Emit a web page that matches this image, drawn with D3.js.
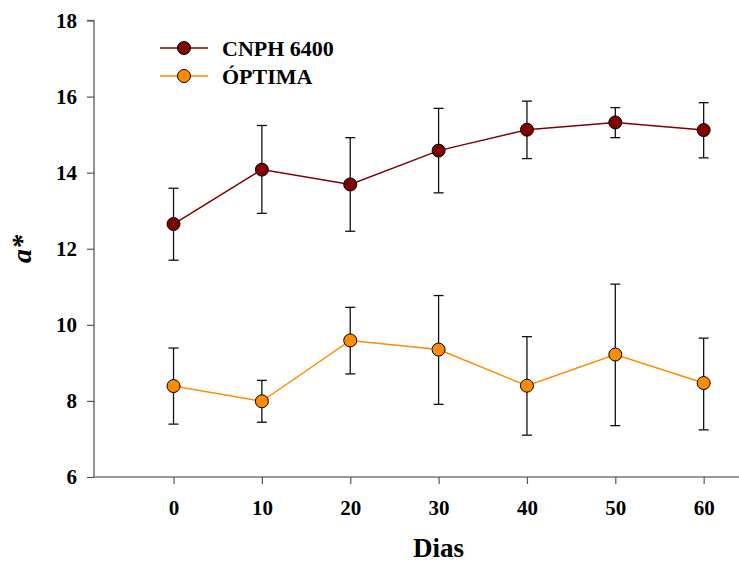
<!DOCTYPE html>
<html>
<head>
<meta charset="utf-8">
<script src="https://cdn.jsdelivr.net/npm/d3@7"></script>
<style>
  body { margin: 0; background: #fff; }
  svg text { font-family: "Liberation Serif", "Times New Roman", Times, "DejaVu Serif", serif !important; }
</style>
</head>
<body>
<svg id="chart" width="739" height="563"></svg>
<script>
// ---------------- DATA ----------------
const dias = [0, 10, 20, 30, 40, 50, 60];

const cnphMean  = [12.65, 14.08, 13.69, 14.58, 15.13, 15.32, 15.12];
const cnphLow   = [11.70, 12.93, 12.46, 13.47, 14.37, 14.92, 14.39];
const cnphHigh  = [13.59, 15.24, 14.92, 15.69, 15.88, 15.71, 15.84];

const optimaMean = [8.39, 7.99, 9.59, 9.35, 8.40, 9.22, 8.47];
const optimaLow  = [7.39, 7.44, 8.71, 7.91, 7.10, 7.35, 7.24];
const optimaHigh = [9.39, 8.54, 10.46, 10.77, 9.69, 11.07, 9.65];

const yTicks = [6, 8, 10, 12, 14, 16, 18];
const seriesNames = ["CNPH 6400", "ÓPTIMA"];

// ---------------- SETUP ----------------
const svg = d3.select("#chart");

const x = d3.scaleLinear().domain([-9, 64]).range([94, 739]);
const y = d3.scaleLinear().domain([6, 18]).range([477, 20.5]);

const series = [
  { name: seriesNames[0], mean: cnphMean, low: cnphLow, high: cnphHigh, color: "#800000" },
  { name: seriesNames[1], mean: optimaMean, low: optimaLow, high: optimaHigh, color: "#ff8c00" }
];

// ---------------- AXES ----------------
const yAxis = svg.append("g")
  .attr("transform", `translate(${x(-9)},0)`)
  .call(d3.axisLeft(y).tickValues(yTicks).tickSize(7).tickPadding(10));

const xAxis = svg.append("g")
  .attr("transform", `translate(0,${y(6)})`)
  .call(d3.axisBottom(x).tickValues(dias).tickSize(7).tickPadding(16));

[yAxis, xAxis].forEach(g => {
  g.select(".domain").attr("stroke", "#777").attr("stroke-width", 1.6);
  g.selectAll(".tick line").attr("stroke", "#555").attr("stroke-width", 1.2);
  g.selectAll(".tick text")
    .attr("fill", "#000")
    .attr("font-size", 21)
    .attr("font-weight", "bold");
});

// remove the outer tick stubs drawn by the domain path
yAxis.select(".domain").attr("d", `M-7,${y(18)}H0V${y(6)}`);
xAxis.select(".domain").attr("d", `M${x(-9)},0H${x(64)}`);

// ---------------- AXIS TITLES ----------------
svg.append("text")
  .attr("x", x(30))
  .attr("y", 557)
  .attr("text-anchor", "middle")
  .attr("font-size", 27)
  .attr("font-weight", "bold")
  .text("Dias");

svg.append("text")
  .attr("transform", "translate(31,249) rotate(-90)")
  .attr("text-anchor", "middle")
  .attr("font-size", 28)
  .attr("font-weight", "bold")
  .attr("font-style", "italic")
  .text("a*");

// ---------------- SERIES ----------------
const line = d3.line()
  .x((d, i) => x(dias[i]))
  .y(d => y(d));

series.forEach(s => {
  // connecting line
  svg.append("path")
    .datum(s.mean)
    .attr("fill", "none")
    .attr("stroke", s.color)
    .attr("stroke-width", 1.5)
    .attr("d", line);

  // error bars
  const eb = svg.append("g").attr("stroke", "#111").attr("stroke-width", 1.3);
  dias.forEach((d, i) => {
    eb.append("line")
      .attr("x1", x(d)).attr("x2", x(d))
      .attr("y1", y(s.low[i])).attr("y2", y(s.high[i]));
    [s.low[i], s.high[i]].forEach(v => {
      eb.append("line")
        .attr("x1", x(d) - 5).attr("x2", x(d) + 5)
        .attr("y1", y(v)).attr("y2", y(v));
    });
  });

  // markers
  svg.append("g")
    .selectAll("circle")
    .data(s.mean)
    .join("circle")
    .attr("cx", (d, i) => x(dias[i]))
    .attr("cy", d => y(d))
    .attr("r", 6.5)
    .attr("fill", s.color)
    .attr("stroke", "#000")
    .attr("stroke-width", 1);
});

// ---------------- LEGEND ----------------
const legend = svg.append("g");
series.forEach((s, i) => {
  const ly = 48 + i * 28;
  legend.append("line")
    .attr("x1", 160).attr("x2", 208)
    .attr("y1", ly).attr("y2", ly)
    .attr("stroke", s.color)
    .attr("stroke-width", 1.5);
  legend.append("circle")
    .attr("cx", 184).attr("cy", ly)
    .attr("r", 6.5)
    .attr("fill", s.color)
    .attr("stroke", "#000");
  legend.append("text")
    .attr("x", 222)
    .attr("y", ly + 7.5)
    .attr("font-size", 22)
    .attr("font-weight", "bold")
    .text(s.name);
});
</script>
</body>
</html>
